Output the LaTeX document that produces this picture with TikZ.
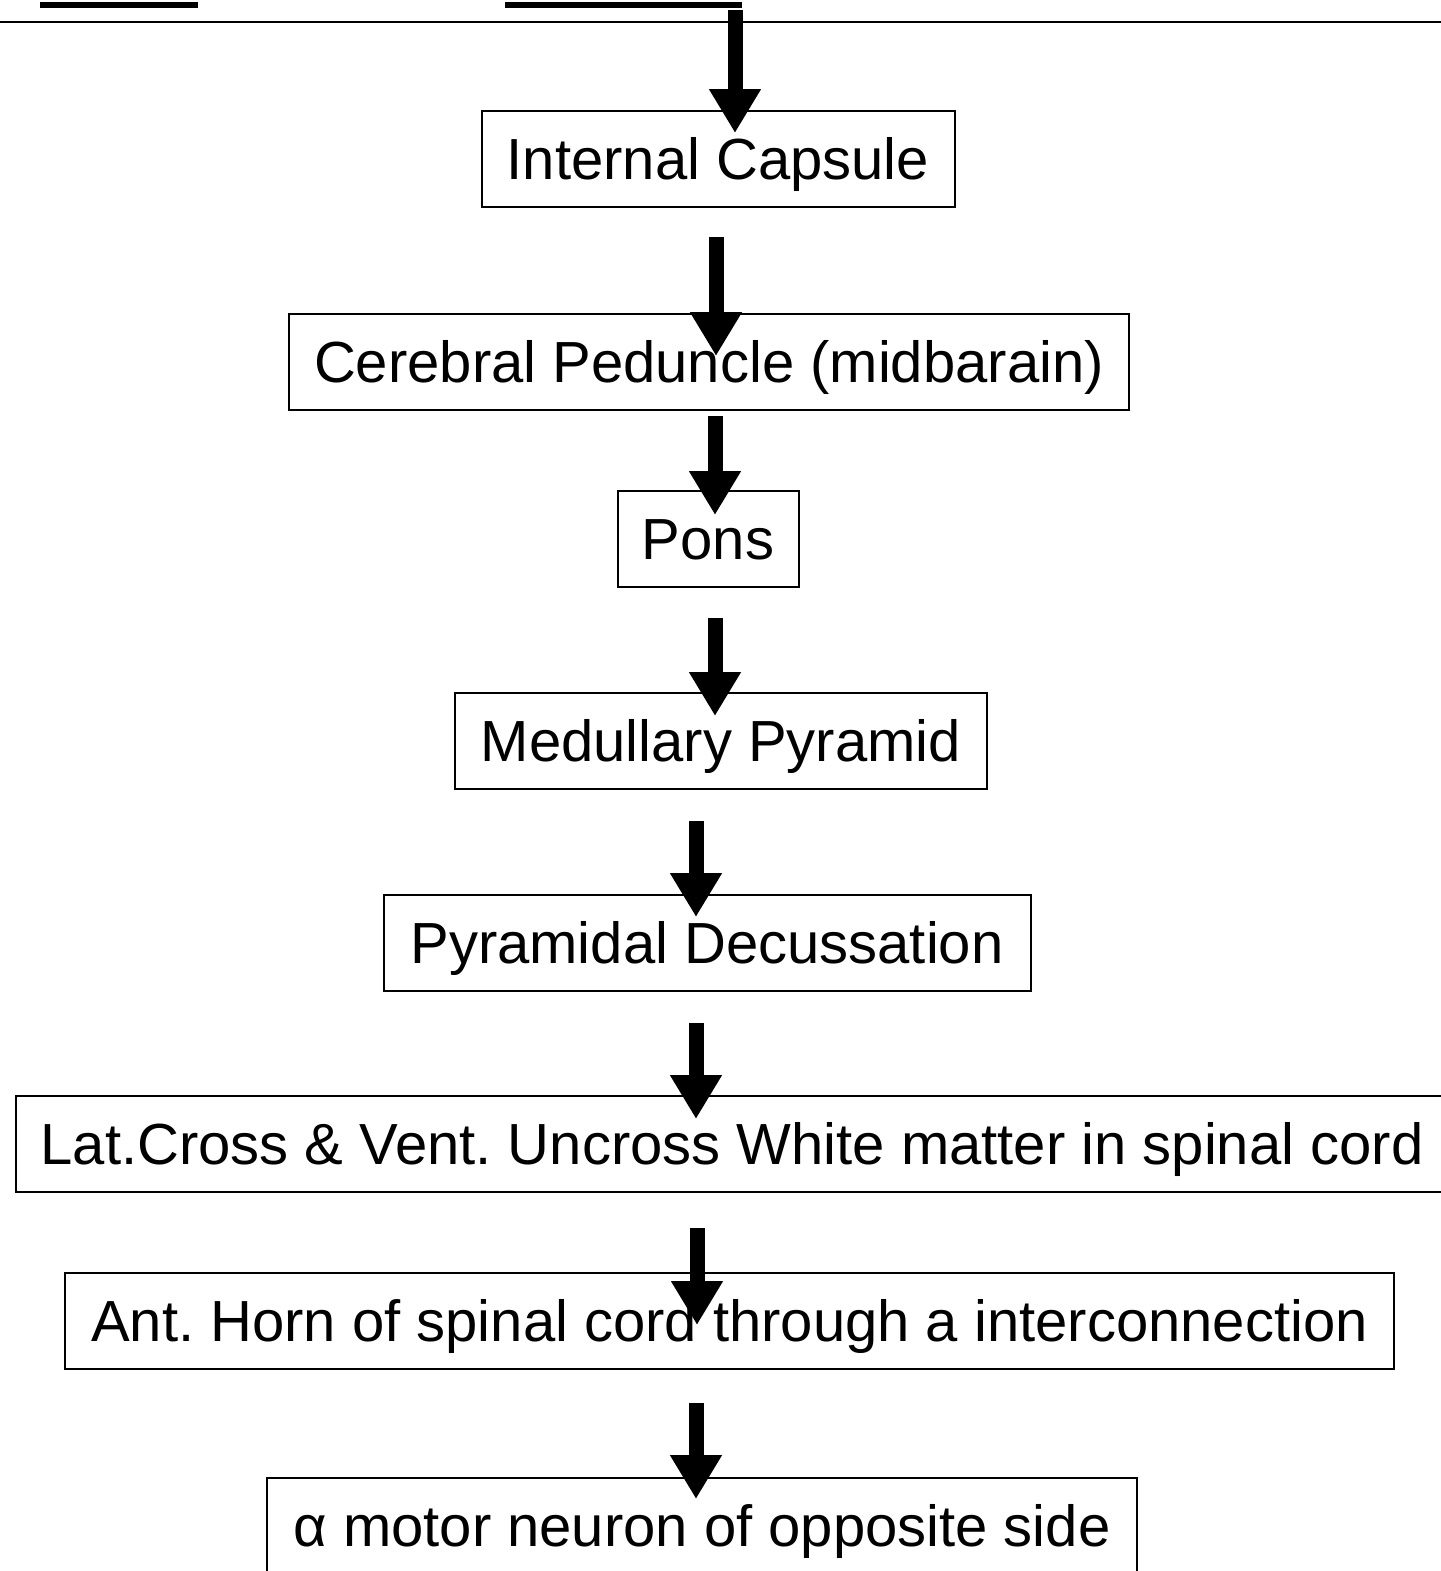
\documentclass[tikz,border=0pt]{standalone}
\usepackage{fontspec}
\setmainfont{Liberation Sans}
\usepackage{tikz}
\usetikzlibrary{arrows.meta}
\frenchspacing

\begin{document}
\begin{tikzpicture}[x=0.5pt,y=-0.5pt,
  box/.style={draw,line width=1pt,inner sep=0pt,minimum height=48pt,
    text height=20.8pt,text depth=0pt,font=\fontsize{29pt}{34pt}\selectfont},
  fat/.style={line width=7.5pt,-{Triangle[width=24.5pt,length=22pt]}}]
 \useasboundingbox (0,0) rectangle (1441,1571);
 \clip (0,0) rectangle (1441,1571);
 % cut off part from above
 \draw[line width=3pt] (40,5) -- (198,5);
 \draw[line width=3pt] (505,5) -- (742,5);
 \draw[line width=1pt] (0,22) -- (1441,22);
 \coordinate (top) at (735,10);

 \node[box,minimum width=236.5pt] (ic) at (718,159) {Internal Capsule};
 \node[box,minimum width=420pt] (cp) at (709,362) {Cerebral Peduncle (midbarain)};
 \node[box,minimum width=90.5pt] (pons) at (708,539) {Pons};
 \node[box,minimum width=266pt] (mp) at (721,741) {Medullary Pyramid};
 \node[box,minimum width=323.5pt] (pd) at (707,943) {Pyramidal Decussation};
 \node[box,minimum width=716pt] (lat) at (732,1144) {Lat.Cross \& Vent. Uncross White matter in spinal cord};
 \node[box,minimum width=664.5pt] (ah) at (729.5,1321) {Ant. Horn of spinal cord through a interconnection};
 \node[box,minimum width=435pt] (amn) at (702,1526) {α motor neuron of opposite side};

 \draw[fat] (top) -- ([xshift=8.5pt,yshift=-11.5pt]ic.north);
 \draw[fat] ([xshift=-1pt,yshift=-14.5pt]ic.south) -- ([xshift=3.5pt,yshift=-21.5pt]cp.north);
 \draw[fat] ([xshift=3pt,yshift=-2.5pt]cp.south) -- ([xshift=3.5pt,yshift=-12.5pt]pons.north);
 \draw[fat] ([xshift=3.5pt,yshift=-15pt]pons.south) -- ([xshift=-3pt,yshift=-12pt]mp.north);
 \draw[fat] ([xshift=-12.5pt,yshift=-15.5pt]mp.south) -- ([xshift=-5.5pt,yshift=-11.5pt]pd.north);
 \draw[fat] ([xshift=-5.5pt,yshift=-15.5pt]pd.south) -- ([xshift=-18pt,yshift=-12pt]lat.north);
 \draw[fat] ([xshift=-17.5pt,yshift=-17.5pt]lat.south) -- ([xshift=-16.25pt,yshift=-26.5pt]ah.north);
 \draw[fat] ([xshift=-16.75pt,yshift=-16.5pt]ah.south) -- ([xshift=-3pt,yshift=-11pt]amn.north);
\end{tikzpicture}
\end{document}
